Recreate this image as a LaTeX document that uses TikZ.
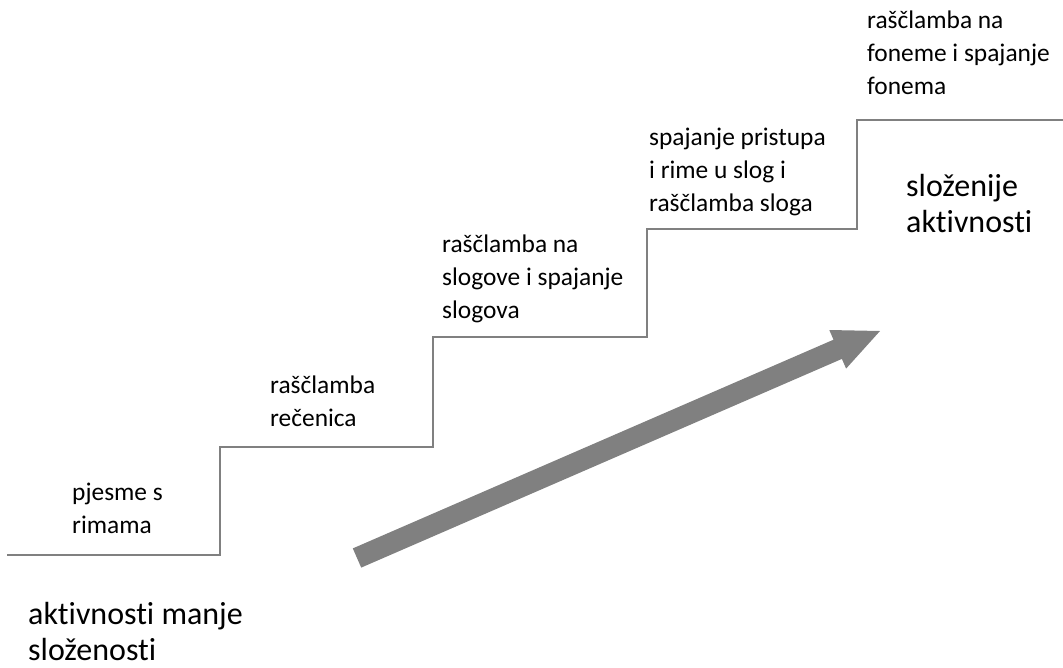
\documentclass[tikz,border=0pt]{standalone}
\usepackage{fontspec}
\setmainfont[Ligatures={NoCommon,NoContextual}]{Carlito}
\definecolor{stairgray}{HTML}{808080}
\definecolor{arrowgray}{HTML}{808080}
\begin{document}
\begin{tikzpicture}[x=1pt,y=-1pt,
  stair/.style={draw=stairgray,line width=2.6pt,line join=miter},
  lbl/.style={anchor=base west,inner sep=0pt,align=left,font=\fontsize{25.4}{33}\selectfont},
  big/.style={anchor=base west,inner sep=0pt,align=left,font=\fontsize{32}{36}\selectfont},
  arrowshape/.style={fill=arrowgray,draw=none}]
\useasboundingbox (0,0) rectangle (1063,667);
% staircase
\coordinate (c0) at (7,555);
\coordinate (c1) at (220,555);
\coordinate (c2) at (220,447);
\coordinate (c3) at (433,447);
\coordinate (c4) at (433,337);
\coordinate (c5) at (647,337);
\coordinate (c6) at (647,229);
\coordinate (c7) at (857,229);
\coordinate (c8) at (857,120);
\coordinate (c9) at (1063,120);
\draw[stair] (c0) -- (c1) -- (c2) -- (c3) -- (c4) -- (c5) -- (c6) -- (c7) -- (c8) -- (c9);
% labels (anchored at the baseline of their last line)
\node[lbl] (t1) at (72,533) {pjesme s\\rimama};
\node[lbl] (t2) at (270,426) {raščlamba\\rečenica};
\node[lbl] (t3) at (442,318) {raščlamba na\\slogove i spajanje\\slogova};
\node[lbl] (t4) at (649,211) {spajanje pristupa\\i rime u slog i\\raščlamba sloga};
\node[lbl] (t5) at (867,94) {raščlamba na\\foneme i spajanje\\fonema};
\node[big] (b1) at (906,232) {složenije\\aktivnosti};
\node[big,text depth=0pt] (b2) at (28,660) {aktivnosti manje\\složenosti};
% big arrow
\fill[arrowshape] (352.8,548.4) -- (833.5,339.7) -- (829.3,330.0) -- (880,331)
  -- (846.1,368.6) -- (841.9,358.9) -- (361.2,567.6) -- cycle;
\end{tikzpicture}
\end{document}
